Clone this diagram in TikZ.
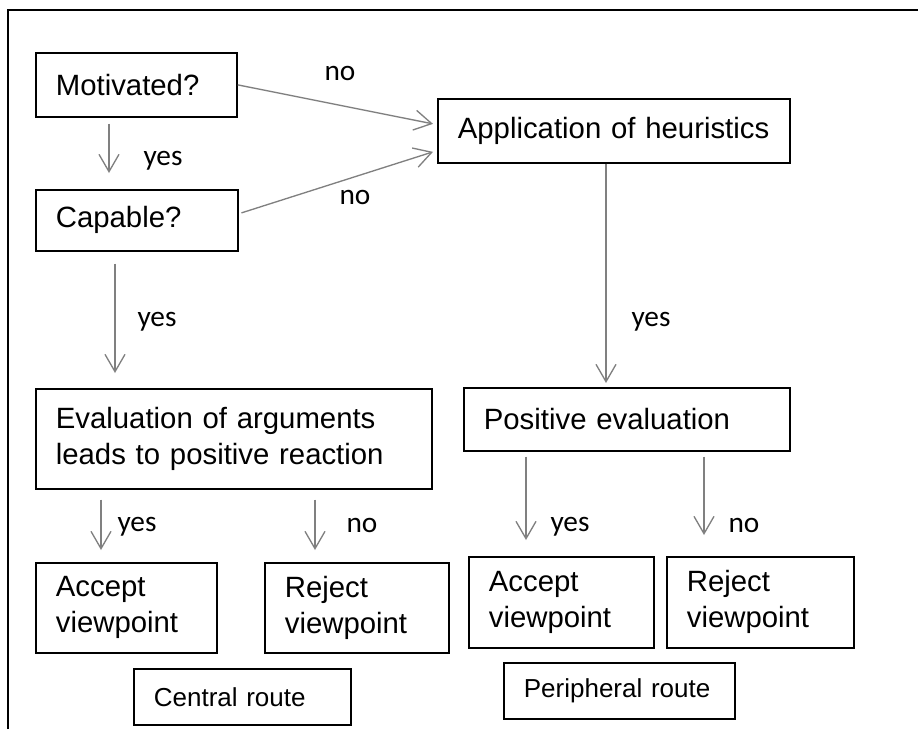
\documentclass[tikz,border=0pt]{standalone}
\usepackage{fontspec}
\setmainfont{Liberation Sans}
\newfontfamily\lblfont{Carlito}
\usepackage{tikz}
\usetikzlibrary{arrows.meta}
\usetikzlibrary{positioning}

\begin{document}
\begin{tikzpicture}[x=0.75pt,y=-0.75pt,>={Straight Barb[length=13pt,width=15pt]},
  box/.style={draw,line width=1.3pt,anchor=north west,inner xsep=15pt,inner ysep=0pt,align=left,font=\fontsize{22}{27}\selectfont},
  route box/.style={box,font=\fontsize{19.5}{24}\selectfont},
  arr/.style={->,gray,line width=1pt},
  lbl/.style={inner sep=0pt,font=\lblfont\fontsize{22}{26}\selectfont}]
      \useasboundingbox (0,0) rectangle (918,729);
      \draw[line width=1.8pt] (8,729) -- (8,10) -- (918,10);

      % central route
      \node [box,text width=120.75pt,minimum height=48pt] (mot) at (35,52) {Motivated?};
      \node [box,text width=121.5pt,minimum height=45.75pt] (cap) at (35,189) {Capable?};
      \node [box,text width=267pt,minimum height=75pt] (evalarg) at (35,388) {Evaluation of arguments\\leads to positive reaction};
      \node [box,text width=105.75pt,minimum height=67.5pt] (acccen) at (35,562) {Accept\\viewpoint};
      \node [box,text width=108pt,minimum height=67.5pt] (rejcen) at (264,562) {Reject\\viewpoint};
      \node [route box,text width=132.75pt,minimum height=42pt] (central) at (133,668) {Central route};

      % peripheral route
      \node [box,text width=234pt,minimum height=48pt] (heur) at (437,98) {Application of heuristics};
      \node [box,text width=214.5pt,minimum height=47.25pt] (poseval) at (463,387) {Positive evaluation};
      \node [box,text width=108.75pt,minimum height=68.25pt] (accper) at (468,556) {Accept\\viewpoint};
      \node [box,text width=110.25pt,minimum height=68.25pt] (rejper) at (666,556) {Reject\\viewpoint};
      \node [route box,text width=143.25pt,minimum height=42pt] (peripheral) at (503,662) {Peripheral route};

      \draw[arr] ([xshift=55.5pt,yshift=-4.5pt]mot.south west) -- ([xshift=55.5pt,yshift=12pt]cap.north west);
      \draw[arr] (mot.east) -- ([xshift=-3pt,yshift=5.25pt]heur.west);
      \draw[arr] ([xshift=2pt,yshift=5.6pt]cap.east) -- ([xshift=-3pt,yshift=-15.75pt]heur.west);
      \draw[arr] ([xshift=60pt,yshift=-9pt]cap.south west) -- ([xshift=60pt,yshift=11.25pt]evalarg.north west);
      \draw[arr] ([xshift=126.75pt]heur.south west) -- ([xshift=107.25pt,yshift=3pt]poseval.north west);

      \draw[arr] ([xshift=49.5pt,yshift=-7.5pt]evalarg.south west) -- ([xshift=49.5pt,yshift=9pt]acccen.north west);
      \draw[arr] ([xshift=210pt,yshift=-7.5pt]evalarg.south west) -- ([xshift=38.25pt,yshift=9pt]rejcen.north west);
      \draw[arr] ([xshift=47.25pt,yshift=-3.75pt]poseval.south west) -- ([xshift=43.5pt,yshift=12pt]accper.north west);
      \draw[arr] ([xshift=180.75pt,yshift=-3.75pt]poseval.south west) -- ([xshift=28.5pt,yshift=15.75pt]rejper.north west);

      \node [lbl] (no1) at (340,73.5) {no};
      \node [lbl] (yes1) at (163,161) {yes};
      \node [lbl] (no2) at (355,197) {no};
      \node [lbl] (yes2) at (157,322) {yes};
      \node [lbl] (yes3) at (651,322) {yes};
      \node [lbl] (yes4) at (137,527) {yes};
      \node [lbl] (no4) at (362,525) {no};
      \node [lbl] (yes5) at (570,527) {yes};
      \node [lbl] (no5) at (744,525) {no};
    \end{tikzpicture}
\end{document}
